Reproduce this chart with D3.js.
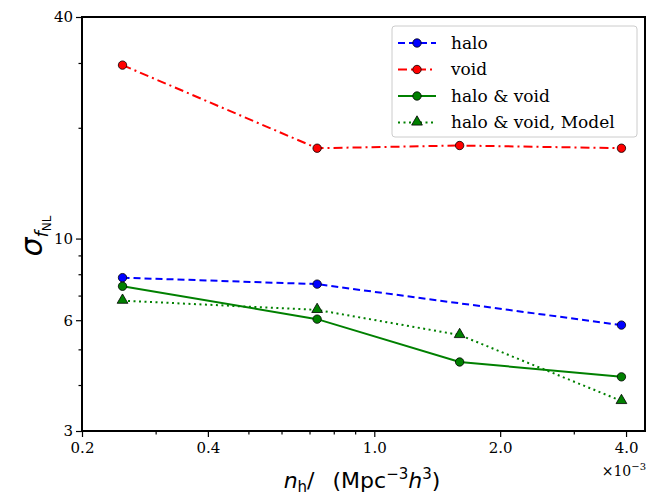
<!DOCTYPE html>
<html>
<head>
<meta charset="utf-8">
<script src="https://cdn.jsdelivr.net/npm/d3@7"></script>
<style>
  body { margin: 0; background: #fff; }
</style>
</head>
<body>
<div id="chart"></div>
<script>
// Daten (x in Einheiten von 1e-3 Mpc^-3 h^3)
const nh = [0.25, 0.73, 1.6, 3.9];
const haloX = [0.25, 0.73, 3.9];
const halo = [7.83, 7.52, 5.82];
const voidVals = [29.6, 17.6, 17.9, 17.6];
const haloVoid = [7.42, 6.04, 4.62, 4.21];
const haloVoidModel = [6.78, 6.40, 5.47, 3.62];

const xTicks = [0.2, 0.4, 1.0, 2.0, 4.0];
const xMinor = [0.3, 0.5, 0.6, 0.7, 0.8, 0.9, 3.0];
const yTicks = [3, 6, 10, 40];
const yMinor = [4, 5, 7, 8, 9, 20, 30];

const series = [
  { name: "halo", xs: haloX, ys: halo, color: "blue", dash: "7,4", marker: "circle" },
  { name: "void", xs: nh, ys: voidVals, color: "red", dash: "9,4,2,4", marker: "circle" },
  { name: "halo & void", xs: nh, ys: haloVoid, color: "green", dash: null, marker: "circle" },
  { name: "halo & void, Model", xs: nh, ys: haloVoidModel, color: "green", dash: "2,3.5", marker: "triangle" }
];

const SERIF = "DejaVu Serif";

const W = 647, H = 498;
const margin = { top: 17, right: 2, bottom: 67, left: 82 };
const width = W - margin.left - margin.right,
      height = H - margin.top - margin.bottom;

const svg = d3.select("#chart").append("svg")
  .attr("width", W).attr("height", H);

const g = svg.append("g").attr("transform", `translate(${margin.left},${margin.top})`);

const x = d3.scaleLog().domain([0.2, 4.44]).range([0, width]);
const y = d3.scaleLog().domain([3, 40]).range([height, 0]);

// Serifenschrift direkt an jedem Text setzen
function serif(sel, size) {
  sel.attr("font-family", SERIF).attr("font-size", size)
     .attr("style", `font-family: '${SERIF}'; font-size: ${size}px`);
}

// Ticks
const fmtX = d => d.toFixed(1);
function clean(a) {
  a.select(".domain").remove();
  a.attr("font-family", SERIF);
  a.selectAll("text").attr("fill", "#000").call(serif, 15);
}
g.append("g").attr("transform", `translate(0,${height})`)
  .call(d3.axisBottom(x).tickValues(xTicks).tickFormat(fmtX).tickSize(6).tickSizeOuter(0))
  .call(clean)
  .call(a => a.selectAll("text").attr("dy", "0.85em"));
g.append("g").attr("transform", `translate(0,${height})`)
  .call(d3.axisBottom(x).tickValues(xMinor).tickFormat("").tickSize(3.5).tickSizeOuter(0))
  .call(clean);

g.append("g")
  .call(d3.axisLeft(y).tickValues(yTicks).tickFormat(d3.format("d")).tickSize(6).tickSizeOuter(0))
  .call(clean);
g.append("g")
  .call(d3.axisLeft(y).tickValues(yMinor).tickFormat("").tickSize(3.5).tickSizeOuter(0))
  .call(clean);

g.selectAll(".tick line").attr("stroke", "#000").attr("stroke-width", 1.2);

// Linien und Marker
const line = d3.line().x(d => x(d[0])).y(d => y(d[1]));
const tri = d3.symbol().type(d3.symbolTriangle).size(50);

series.forEach(s => {
  const pts = s.xs.map((v, i) => [v, s.ys[i]]);
  g.append("path").datum(pts)
    .attr("d", line)
    .attr("fill", "none")
    .attr("stroke", s.color)
    .attr("stroke-width", 2)
    .attr("stroke-dasharray", s.dash);
  if (s.marker === "circle") {
    g.selectAll(null).data(pts).enter().append("circle")
      .attr("cx", d => x(d[0])).attr("cy", d => y(d[1])).attr("r", 4.2)
      .attr("fill", s.color).attr("stroke", "#000").attr("stroke-width", 0.8);
  } else {
    g.selectAll(null).data(pts).enter().append("path")
      .attr("d", tri)
      .attr("transform", d => `translate(${x(d[0])},${y(d[1]) - 0.5})`)
      .attr("fill", s.color).attr("stroke", "#000").attr("stroke-width", 0.8);
  }
});

// Rahmen
g.append("rect").attr("width", width).attr("height", height)
  .attr("fill", "none").attr("stroke", "#000").attr("stroke-width", 2);

// Legende
const legend = g.append("g").attr("transform", `translate(${392 - margin.left},${26 - margin.top})`);
legend.append("rect").attr("width", 245).attr("height", 111).attr("rx", 3)
  .attr("fill", "#fff").attr("fill-opacity", 0.8)
  .attr("stroke", "#ccc").attr("stroke-width", 1);
const item = legend.selectAll(".legend-item").data(series).enter().append("g")
  .attr("class", "legend-item")
  .attr("transform", (d, i) => `translate(6, ${17 + i * 26.5})`);
item.append("line").attr("x1", 0).attr("x2", 38)
  .attr("stroke", d => d.color).attr("stroke-width", 2)
  .attr("stroke-dasharray", d => d.dash);
item.each(function(d) {
  const it = d3.select(this);
  if (d.marker === "circle") {
    it.append("circle").attr("cx", 19).attr("r", 4.2)
      .attr("fill", d.color).attr("stroke", "#000").attr("stroke-width", 0.8);
  } else {
    it.append("path").attr("d", tri).attr("transform", "translate(19,-0.5)")
      .attr("fill", d.color).attr("stroke", "#000").attr("stroke-width", 0.8);
  }
});
item.append("text").attr("x", 53).attr("dy", "0.35em")
  .attr("fill", "#000").call(serif, 17)
  .text(d => d.name);

// Achsentitel
const xt = svg.append("text").attr("font-family", "DejaVu Sans")
  .attr("x", 362).attr("y", 488).attr("text-anchor", "middle").attr("font-size", 22);
xt.append("tspan").attr("font-style", "italic").text("n");
xt.append("tspan").attr("font-size", 15).attr("dy", 4).text("h");
xt.append("tspan").attr("dy", -4).text("/\u2002  (Mpc");
xt.append("tspan").attr("font-size", 15).attr("dy", -9).text("\u22123");
xt.append("tspan").attr("dy", 9).attr("font-style", "italic").text("h");
xt.append("tspan").attr("font-size", 15).attr("dy", -9).text("3");
xt.append("tspan").attr("dy", 9).text(")");

const off = svg.append("text")
  .attr("x", 646).attr("y", 476).attr("text-anchor", "end").call(serif, 14);
off.append("tspan").text("\u00d710");
off.append("tspan").attr("font-size", 10).attr("dy", -6).text("\u22123");

const yt = svg.append("text").attr("font-family", "DejaVu Sans")
  .attr("transform", "translate(42,236) rotate(-90)").attr("text-anchor", "middle");
yt.append("tspan").attr("font-style", "italic").attr("font-size", 30).text("\u03c3");
yt.append("tspan").attr("font-style", "italic").attr("font-size", 18).attr("dy", 6).text("f");
yt.append("tspan").attr("font-size", 12).attr("dy", 3).text("NL");
</script>
</body>
</html>
